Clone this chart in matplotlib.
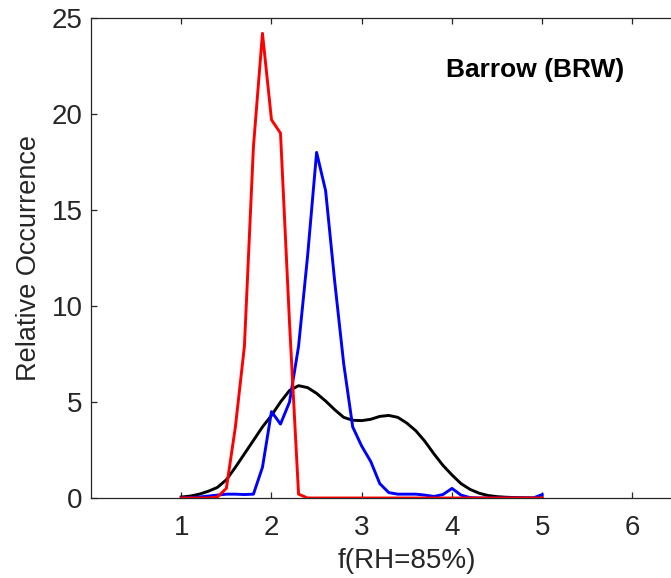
import numpy as np
import matplotlib
matplotlib.use("Agg")
import matplotlib.pyplot as plt

plt.rcParams['font.family'] = ['Liberation Sans', 'DejaVu Sans']

x_vals = [1.0, 1.1, 1.2, 1.3, 1.4, 1.5, 1.6, 1.7, 1.8, 1.9,
          2.0, 2.1, 2.2, 2.3, 2.4, 2.5, 2.6, 2.7, 2.8, 2.9,
          3.0, 3.1, 3.2, 3.3, 3.4, 3.5, 3.6, 3.7, 3.8, 3.9,
          4.0, 4.1, 4.2, 4.3, 4.4, 4.5, 4.6, 4.7, 4.8, 4.9, 5.0]

black_vals = [0.05, 0.1, 0.2, 0.35, 0.55, 0.95, 1.6, 2.3, 3.0, 3.7,
              4.3, 5.0, 5.6, 5.85, 5.75, 5.45, 5.05, 4.6, 4.2, 4.05,
              4.03, 4.1, 4.25, 4.3, 4.2, 3.9, 3.5, 2.95, 2.3, 1.7,
              1.2, 0.75, 0.45, 0.25, 0.13, 0.07, 0.04, 0.02, 0.01, 0.0, 0.0]

blue_vals = [0.0, 0.02, 0.05, 0.1, 0.15, 0.2, 0.2, 0.18, 0.2, 1.6,
             4.5, 3.85, 5.0, 7.9, 12.6, 18.0, 16.0, 11.3, 7.0, 3.7,
             2.7, 1.9, 0.75, 0.28, 0.2, 0.2, 0.2, 0.15, 0.08, 0.18,
             0.5, 0.15, 0.02, 0.0, 0.0, 0.0, 0.0, 0.0, 0.0, 0.0, 0.18]

red_vals = [0.0, 0.0, 0.0, 0.0, 0.05, 0.5, 3.7, 7.9, 18.3, 24.2,
            19.7, 19.0, 9.1, 0.2, 0.0, 0.0, 0.0, 0.0, 0.0, 0.0,
            0.0, 0.0, 0.0, 0.0, 0.0, 0.0, 0.0, 0.0, 0.0, 0.0,
            0.0, 0.0, 0.0, 0.0, 0.0, 0.0, 0.0, 0.0, 0.0, 0.0, 0.0]

x_ticks = [1, 2, 3, 4, 5, 6]
y_ticks = [0, 5, 10, 15, 20, 25]

W, H = 671, 578
fig = plt.figure(figsize=(W / 100, H / 100), dpi=100)
left_px, right_px, top_px, bottom_px = 91, 722.7, 18, 498
ax = fig.add_axes([left_px / W, 1 - bottom_px / H,
                   (right_px - left_px) / W, (bottom_px - top_px) / H])

lw = 2.1
ax.plot(x_vals, black_vals, color='black', lw=lw)
ax.plot(x_vals, blue_vals, color='#0000ff', lw=lw)
ax.plot(x_vals, red_vals, color='#ff0000', lw=lw)

ax.set_xlim(0, 7)
ax.set_ylim(0, 25)
ax.set_xticks(x_ticks)
ax.set_yticks(y_ticks)

gray = '#262626'
for s in ax.spines.values():
    s.set_color(gray)
    s.set_linewidth(0.9)
ax.tick_params(axis='both', direction='in', length=4, width=0.9,
               color=gray, labelcolor=gray, labelsize=20)
ax.tick_params(axis='x', top=True, pad=12)
ax.tick_params(axis='y', right=True, pad=6)

ax.set_xlabel('f(RH=85%)', fontsize=20, color=gray, labelpad=5)
ax.set_ylabel('Relative Occurrence', fontsize=19.5, color=gray, labelpad=7)

ax.text(4.92, 22.3, 'Barrow (BRW)', fontsize=19, fontweight='bold',
        color='black', ha='center', va='center')

fig.savefig('out.png', dpi=100)
